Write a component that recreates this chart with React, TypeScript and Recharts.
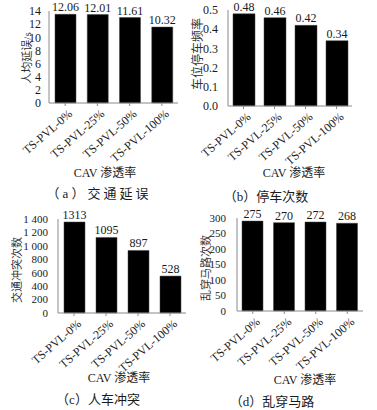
import { BarChart, Bar, XAxis, YAxis, LabelList } from 'recharts'

const CATEGORIES = ['TS-PVL-0%', 'TS-PVL-25%', 'TS-PVL-50%', 'TS-PVL-100%']

// bar heights as drawn in the figure, and the printed value labels
const DELAY_BARS = [13.5, 13.45, 13.0, 11.55]
const DELAY_LABELS = ['12.06', '12.01', '11.61', '10.32']
const STOP_BARS = [0.48, 0.46, 0.42, 0.34]
const STOP_LABELS = ['0.48', '0.46', '0.42', '0.34']
const CONFLICT_BARS = [1355, 1125, 932, 550]
const CONFLICT_LABELS = ['1313', '1095', '897', '528']
const JAYWALK_BARS = [290, 285, 287, 283]
const JAYWALK_LABELS = ['275', '270', '272', '268']

const DELAY_TICKS = [0, 2, 4, 6, 8, 10, 12, 14]
const STOP_TICKS = [0, 0.1, 0.2, 0.3, 0.4, 0.5]
const CONFLICT_TICKS = [0, 200, 400, 600, 800, 1000, 1200, 1400]
const JAYWALK_TICKS = [0, 50, 100, 150, 200, 250, 300]

const SERIF = "'Liberation Serif', 'Times New Roman', 'Noto Sans CJK SC', serif"
const AXIS = '#8a8a8a'
const INK = '#1a1a1a'

const XTick = ({ x, y, payload }: { x?: number; y?: number; payload?: { value: string } }) => (
  <g transform={`translate(${(x ?? 0) + 8},${(y ?? 0) + 7}) rotate(-41)`}>
    <text textAnchor="end" fontSize={12} fontFamily={SERIF} fill={INK}>{payload?.value}</text>
  </g>
)

const build = (bars: number[], labels: string[]) =>
  CATEGORIES.map((name, i) => ({ name, value: bars[i], label: labels[i] }))

type PanelProps = {
  left: number; top: number; width: number; plotBottom: number
  marginTop: number; marginRight: number
  yWidth: number; tickMargin: number; tickFont: number
  domain: [number, number]; ticks: number[]
  fmt?: (v: number) => string
  barSize: number
  data: { name: string; value: number; label: string }[]
}

// the svg is made taller than the axis band so the slanted labels are not clipped
const EXTRA = 60
const X_BAND = 20

const Panel = (p: PanelProps) => (
  <div style={{ position: 'absolute', left: p.left, top: p.top }}>
    <BarChart
      width={p.width}
      height={p.plotBottom + X_BAND + EXTRA}
      data={p.data}
      margin={{ top: p.marginTop, right: p.marginRight, left: 0, bottom: EXTRA }}
    >
      <XAxis
        dataKey="name"
        interval={0}
        height={X_BAND}
        tickSize={3}
        tick={<XTick />}
        axisLine={{ stroke: AXIS }}
        tickLine={{ stroke: AXIS }}
      />
      <YAxis
        width={p.yWidth}
        domain={p.domain}
        ticks={p.ticks}
        tickFormatter={p.fmt}
        interval={0}
        tickLine={false}
        tickMargin={p.tickMargin}
        axisLine={{ stroke: AXIS }}
        tick={{ fill: INK, fontSize: p.tickFont, fontFamily: SERIF }}
      />
      <Bar dataKey="value" fill="#000" stroke="#444" strokeWidth={0.5} barSize={p.barSize} isAnimationActive={false}>
        <LabelList dataKey="label" position="top" offset={3} fill={INK} fontSize={12} fontFamily={SERIF} />
      </Bar>
    </BarChart>
  </div>
)

const thousands = (v: number) => (v >= 1000 ? `${Math.floor(v / 1000)} ${String(v % 1000).padStart(3, '0')}` : `${v}`)

export default function App() {
  const txt = { fontFamily: SERIF, fill: INK }
  const ytitle = { fontFamily: SERIF, fill: '#333', textAnchor: 'middle' as const, dominantBaseline: 'central' as const }
  return (
    <div style={{ position: 'absolute', left: 0, top: 0, width: 377, height: 410, background: '#fff', overflow: 'hidden' }}>
      <Panel left={0} top={0} width={188} plotBottom={103} marginTop={11} marginRight={10}
        yWidth={49} tickMargin={2} tickFont={12}
        domain={[0, 14]} ticks={DELAY_TICKS} barSize={21}
        data={build(DELAY_BARS, DELAY_LABELS)} />
      <Panel left={188} top={0} width={189} plotBottom={106} marginTop={10} marginRight={25}
        yWidth={40} tickMargin={4} tickFont={12}
        domain={[0, 0.5]} ticks={STOP_TICKS} fmt={(v) => v.toFixed(1)} barSize={22}
        data={build(STOP_BARS, STOP_LABELS)} />
      <Panel left={0} top={205} width={188} plotBottom={108} marginTop={14} marginRight={2}
        yWidth={58} tickMargin={4} tickFont={11}
        domain={[0, 1400]} ticks={CONFLICT_TICKS} fmt={thousands} barSize={21}
        data={build(CONFLICT_BARS, CONFLICT_LABELS)} />
      <Panel left={188} top={205} width={189} plotBottom={106} marginTop={13} marginRight={14}
        yWidth={49} tickMargin={5} tickFont={11}
        domain={[0, 300]} ticks={JAYWALK_TICKS} barSize={21}
        data={build(JAYWALK_BARS, JAYWALK_LABELS)} />

      <svg width={377} height={410} style={{ position: 'absolute', left: 0, top: 0, pointerEvents: 'none' }}>
        {/* y axis titles */}
        <text {...ytitle} fontSize={11} transform="translate(27,58) rotate(-90)">人均延误/s</text>
        <text {...ytitle} fontSize={12} transform="translate(198,54) rotate(-90)">车位停车频率</text>
        <text {...ytitle} fontSize={11} transform="translate(17,270) rotate(-90)">交通冲突次数</text>
        <text {...ytitle} fontSize={11} transform="translate(206,268) rotate(-90)">乱穿马路次数</text>

        {/* x axis titles */}
        <text {...txt} fontSize={12} textAnchor="middle" x={105} y={177}>CAV 渗透率</text>
        <text {...txt} fontSize={12} textAnchor="middle" x={294} y={177}>CAV 渗透率</text>
        <text {...txt} fontSize={12} textAnchor="middle" x={119} y={382}>CAV 渗透率</text>
        <text {...txt} fontSize={12} textAnchor="middle" x={305} y={384}>CAV 渗透率</text>

        {/* sub-figure captions */}
        <text {...txt} fontSize={13} textAnchor="middle" x={99} y={198} letterSpacing={3}>（a）交通延误</text>
        <text {...txt} fontSize={13} textAnchor="middle" x={266} y={201}>（b）停车次数</text>
        <text {...txt} fontSize={13} textAnchor="middle" x={98} y={404}>（c）人车冲突</text>
        <text {...txt} fontSize={13} textAnchor="middle" x={272} y={406}>（d）乱穿马路</text>
      </svg>
    </div>
  )
}
